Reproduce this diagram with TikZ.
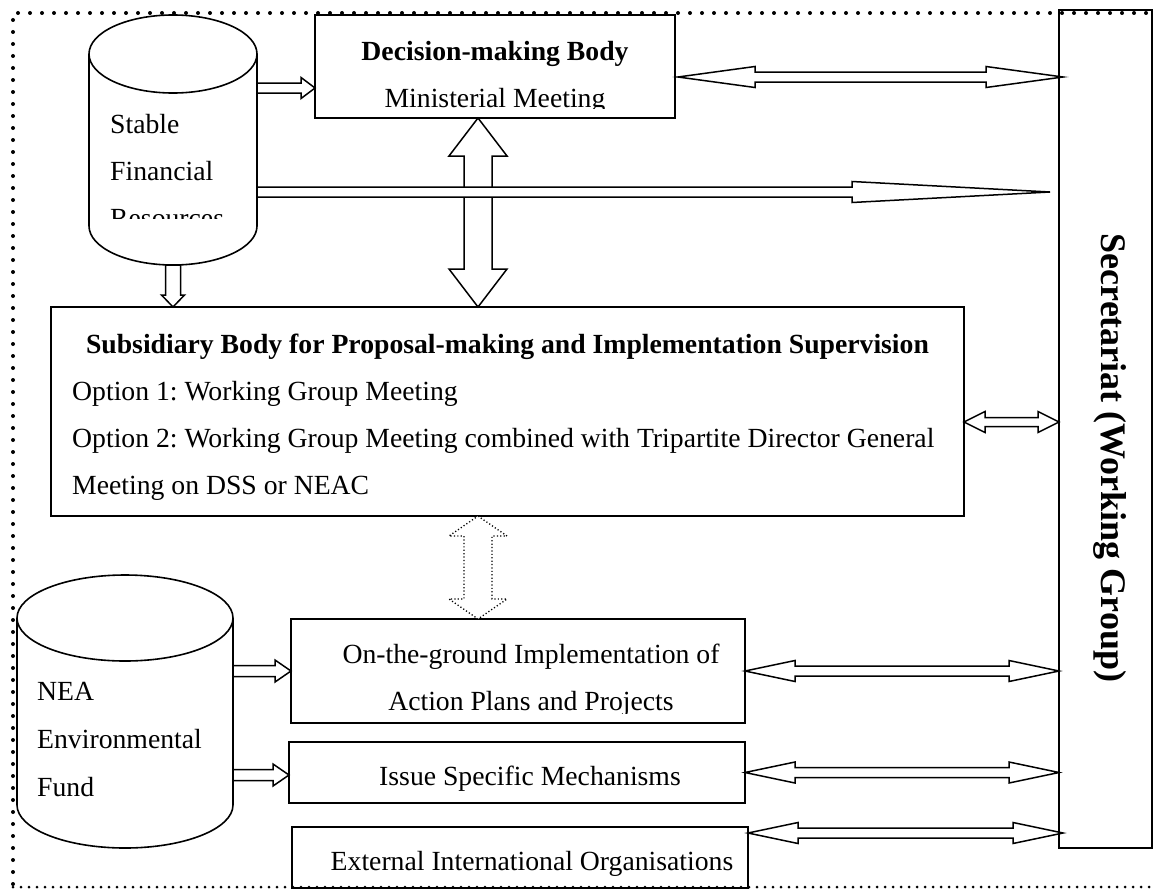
\documentclass[tikz,border=0pt]{standalone}
\usepackage{fontspec}
\setmainfont{Liberation Serif}
\usetikzlibrary{calc}
\frenchspacing

% hollow block arrows, from #2 to #3 (shaft half width #4, head half width #5, head length #6)
\newcommand{\blockto}[6][]{%
  \coordinate (ba) at (#2);
  \coordinate (bb) at (#3);
  \coordinate (hb) at ($(bb)!#6!(ba)$);
  \draw[blockarrow,#1] ($(ba)!#4!90:(bb)$) -- ($(hb)!#4!90:(bb)$) -- ($(hb)!#5!90:(bb)$) -- (bb)
    -- ($(hb)!#5!-90:(bb)$) -- ($(hb)!#4!-90:(bb)$) -- ($(ba)!#4!-90:(bb)$) -- cycle;
}
\newcommand{\blockboth}[6][]{%
  \coordinate (ba) at (#2);
  \coordinate (bb) at (#3);
  \coordinate (ha) at ($(ba)!#6!(bb)$);
  \coordinate (hb) at ($(bb)!#6!(ba)$);
  \draw[blockarrow,#1] (ba) -- ($(ha)!#5!90:(bb)$) -- ($(ha)!#4!90:(bb)$) -- ($(hb)!#4!90:(bb)$)
    -- ($(hb)!#5!90:(bb)$) -- (bb) -- ($(hb)!#5!-90:(bb)$) -- ($(hb)!#4!-90:(bb)$)
    -- ($(ha)!#4!-90:(bb)$) -- ($(ha)!#5!-90:(bb)$) -- cycle;
}

\begin{document}
\begin{tikzpicture}[
  x=1pt, y=-1pt,
  box/.style={draw, line width=1.7pt, inner sep=0pt, outer sep=0pt, anchor=north west},
  drum/.style={inner sep=0pt, outer sep=0pt, anchor=north west},
  drumline/.style={line width=1.6pt},
  txt/.style={inner sep=0pt, font=\fontsize{27.7}{47}\selectfont},
  bold/.style={txt, font=\fontsize{27.7}{47}\selectfont\bfseries},
  blockarrow/.style={draw, fill=white, line width=1.5pt, line join=miter},
  frame/.style={line width=4pt, line cap=round, dash pattern=on 0pt off 12pt}
]
\clip (0,0) rectangle (1155,891);

% === Outer dotted frame ===
\draw[frame] (1170,13) -- (13,13) -- (13,887);
\draw[frame, line width=3pt, dash pattern=on 0pt off 8pt] (13,887) -- (1170,887);

% === Boxes ===
\node[box, minimum width=360, minimum height=103] (decision) at (315,15) {};
\node[box, minimum width=913, minimum height=209] (subsidiary) at (51,307) {};
\node[box, minimum width=454, minimum height=104] (ontheground) at (291,619) {};
\node[box, minimum width=456, minimum height=61] (issue) at (289,742) {};
\node[box, minimum width=456, minimum height=61] (external) at (292,827) {};
\node[box, line width=1.5pt, minimum width=93, minimum height=838] (secretariat) at (1059,10) {};

% === Funds (cylinders) ===
\node[drum, minimum width=168, minimum height=250] (stable) at (89,15) {};
\draw[drumline] ([yshift=-39pt]stable.north west) -- ([yshift=39pt]stable.south west)
  arc[start angle=180, end angle=360, x radius=84pt, y radius=39pt] -- ([yshift=-39pt]stable.north east);
\draw[drumline] ([yshift=-39pt]stable.north) ellipse [x radius=84pt, y radius=39pt];

\node[drum, minimum width=216, minimum height=273] (nea) at (17,575) {};
\draw[drumline] ([yshift=-43pt]nea.north west) -- ([yshift=43pt]nea.south west)
  arc[start angle=180, end angle=360, x radius=108pt, y radius=43pt] -- ([yshift=-43pt]nea.north east);
\draw[drumline] ([yshift=-43pt]nea.north) ellipse [x radius=108pt, y radius=43pt];

% === Texts ===
% (multi-line nodes sit on the baseline of their last line)
\node[bold, anchor=base] (decision-title) at (495,60) {Decision-making Body};
\begin{scope}
  \clip (decision.north west) rectangle ([yshift=10pt]decision.south east);
  \node[txt, anchor=base] (decision-sub) at (495,107) {Ministerial Meeting};
\end{scope}

\begin{scope}
  \clip (stable.north west) rectangle (257,218);
  \node[txt, anchor=base west, align=left] (stable-text) at (110,227) {Stable\\Financial\\Resources};
\end{scope}

\node[txt, anchor=base west, align=left, font=\fontsize{27.7}{48}\selectfont] (nea-text) at (37,796)
  {NEA\\Environmental\\Fund};

\node[bold, anchor=base] (subsidiary-title) at (507.5,353)
  {Subsidiary Body for Proposal-making and Implementation Supervision};
\node[txt, anchor=base west, align=left] (subsidiary-text) at (72,494)
  {Option 1: Working Group Meeting\\
   Option 2: Working Group Meeting combined with Tripartite Director General\\
   Meeting on DSS or NEAC};

\begin{scope}
  \clip (ontheground.north west) rectangle ([yshift=10pt]ontheground.south east);
  \node[txt, anchor=base, align=center] (ontheground-text) at (531,710)
    {On-the-ground Implementation of\\Action Plans and Projects};
\end{scope}
\node[txt, anchor=base] (issue-text) at (530,785) {Issue Specific Mechanisms};
\node[txt, anchor=base] (external-text) at (532,870) {External International Organisations};

\node[bold, rotate=-90, font=\fontsize{36}{40}\selectfont\bfseries] (secretariat-text) at (1110,458)
  {Secretariat (Working Group)};

% === Arrows ===
\blockboth{[xshift=-17pt]decision.south}{[xshift=-29.5pt]subsidiary.north}{14pt}{29pt}{38pt}
\blockto{[yshift=52pt]stable.east}{[yshift=-21.5pt]decision.west}{5pt}{10.5pt}{14pt}
\blockto{[yshift=-52pt]stable.east}{[xshift=-9pt,yshift=237pt]secretariat.west}{5pt}{10.5pt}{198pt}
\blockboth{[xshift=3pt,yshift=-10.5pt]decision.east}{[xshift=4pt,yshift=352pt]secretariat.west}{5pt}{10.5pt}{77pt}
\blockto{stable.south}{stable.south |- subsidiary.north}{7.5pt}{11.5pt}{12pt}
\blockboth{[yshift=-10.5pt]subsidiary.east}{[yshift=7pt]secretariat.west}{4.5pt}{10.5pt}{21pt}
\blockboth[line width=1.3pt, dash pattern=on 1.2pt off 2.2pt]{[xshift=-29.5pt]subsidiary.south}{[xshift=-40pt]ontheground.north}{14pt}{29pt}{20pt}
\blockto{[yshift=40.5pt]nea.east}{ontheground.west}{5.5pt}{11pt}{16pt}
\blockto{[yshift=-63.5pt]nea.east}{[yshift=-2.5pt]issue.west}{5.5pt}{11pt}{16pt}
\blockboth{ontheground.east}{[yshift=-242pt]secretariat.west}{5pt}{10.5pt}{50pt}
\blockboth{issue.east}{[yshift=-343.5pt]secretariat.west}{5pt}{10.5pt}{50pt}
\blockboth{[yshift=24.5pt]external.east}{[xshift=4pt,yshift=-404pt]secretariat.west}{5pt}{10.5pt}{50pt}

\end{tikzpicture}
\end{document}
